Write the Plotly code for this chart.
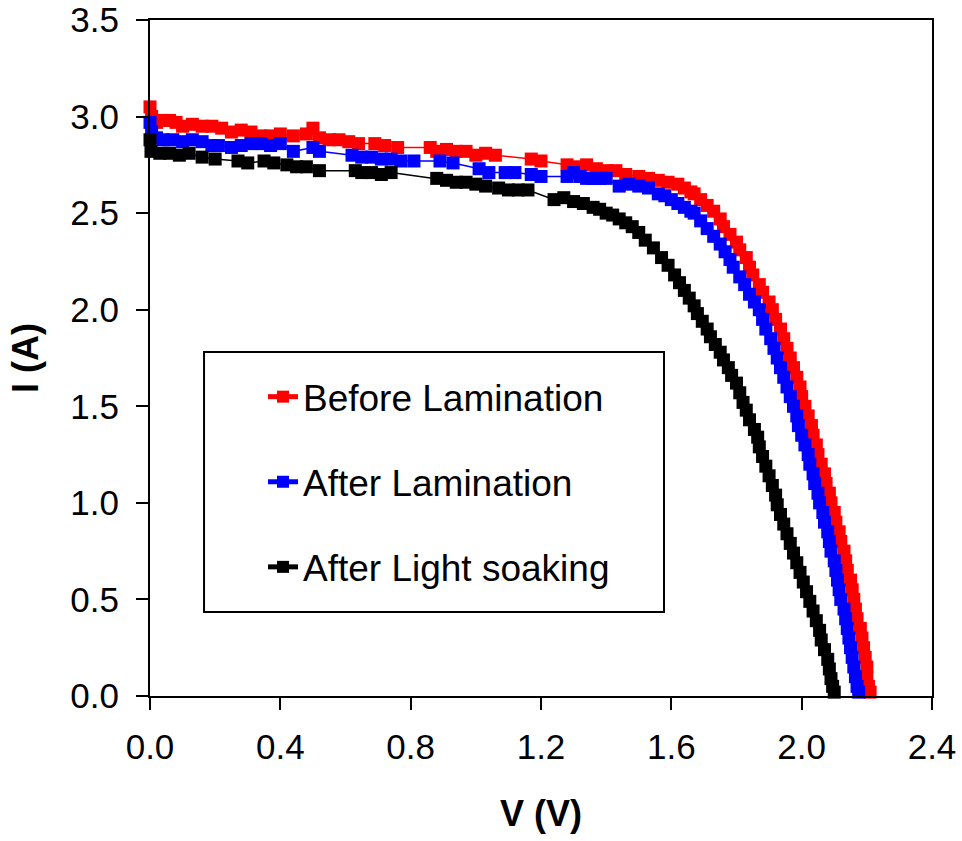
import plotly.graph_objects as go

# ---------------- data ----------------
series_names = ["Before Lamination", "After Lamination", "After Light soaking"]
series_colors = ["#ff0000", "#0000ff", "#000000"]

before_v = [0.000, 0.005, 0.02, 0.04, 0.06, 0.08, 0.10, 0.13, 0.16, 0.19, 0.22, 0.25, 0.28, 0.31,
            0.34, 0.37, 0.40, 0.44, 0.48, 0.50, 0.52, 0.55, 0.58, 0.61, 0.64, 0.69, 0.72, 0.76,
            0.86, 0.88, 0.91, 0.94, 0.97, 1.00, 1.03, 1.06, 1.17, 1.20, 1.28, 1.31, 1.34, 1.37,
            1.40, 1.43, 1.46, 1.50, 1.53, 1.56, 1.59, 1.62, 1.64, 1.66,
            1.67, 1.69, 1.71, 1.73, 1.75, 1.76, 1.78, 1.80, 1.81, 1.83, 1.84, 1.85, 1.87, 1.88,
            1.90, 1.91, 1.92, 1.935, 1.945, 1.955, 1.965, 1.975, 1.985, 1.995, 2.00, 2.01, 2.02,
            2.03, 2.035, 2.045, 2.05, 2.06, 2.07, 2.075, 2.085, 2.09, 2.10, 2.105, 2.115, 2.12,
            2.13, 2.135, 2.14, 2.15, 2.155, 2.16, 2.165, 2.17, 2.18, 2.185, 2.19, 2.195, 2.20,
            2.20, 2.205, 2.21]
before_i = [3.05, 3.00, 2.97, 2.98, 2.98, 2.97, 2.95, 2.96, 2.95, 2.95, 2.94, 2.92, 2.93, 2.92,
            2.90, 2.90, 2.91, 2.90, 2.91, 2.94, 2.89, 2.88, 2.88, 2.87, 2.86, 2.86, 2.85, 2.84,
            2.84, 2.82, 2.83, 2.82, 2.82, 2.80, 2.81, 2.80, 2.78, 2.77, 2.75, 2.74, 2.75, 2.73,
            2.72, 2.72, 2.70, 2.69, 2.68, 2.67, 2.66, 2.65, 2.63, 2.61,
            2.60, 2.57, 2.54, 2.51, 2.47, 2.43, 2.39, 2.35, 2.31, 2.27, 2.22, 2.18, 2.13, 2.09,
            2.04, 2.00, 1.95, 1.90, 1.85, 1.80, 1.75, 1.70, 1.65, 1.60, 1.55, 1.50, 1.45,
            1.40, 1.35, 1.30, 1.25, 1.20, 1.15, 1.10, 1.05, 1.00, 0.95, 0.90, 0.85, 0.80,
            0.75, 0.70, 0.65, 0.60, 0.55, 0.50, 0.45, 0.40, 0.35, 0.30, 0.25, 0.20, 0.15,
            0.10, 0.05, 0.02]

after_v = [0.000, 0.005, 0.02, 0.04, 0.07, 0.10, 0.13, 0.16, 0.19, 0.21, 0.25, 0.28, 0.31, 0.34,
           0.37, 0.40, 0.44, 0.50, 0.52, 0.62, 0.65, 0.68, 0.71, 0.74, 0.77, 0.81, 0.89, 0.93,
           1.01, 1.04, 1.09, 1.12, 1.17, 1.20, 1.28, 1.30, 1.32, 1.34, 1.36, 1.38, 1.40, 1.44,
           1.47, 1.50, 1.53, 1.56, 1.58, 1.60, 1.62, 1.64, 1.66,
           1.67, 1.69, 1.71, 1.73, 1.75, 1.765, 1.78, 1.79, 1.81, 1.825, 1.84, 1.855, 1.87,
           1.88, 1.89, 1.905, 1.915, 1.925, 1.935, 1.945, 1.955, 1.965, 1.975, 1.985, 1.99,
           2.00, 2.01, 2.02, 2.025, 2.035, 2.04, 2.05, 2.055, 2.065, 2.07, 2.08, 2.085, 2.09,
           2.10, 2.105, 2.11, 2.115, 2.12, 2.13, 2.135, 2.14, 2.145, 2.15, 2.155, 2.16, 2.165,
           2.17, 2.175]
after_i = [2.97, 2.92, 2.89, 2.88, 2.88, 2.87, 2.88, 2.87, 2.85, 2.85, 2.84, 2.85, 2.86, 2.86,
           2.85, 2.86, 2.82, 2.84, 2.82, 2.80, 2.79, 2.79, 2.78, 2.78, 2.77, 2.77, 2.77, 2.76,
           2.73, 2.71, 2.71, 2.71, 2.70, 2.69, 2.69, 2.71, 2.69, 2.68, 2.68, 2.68, 2.68, 2.64,
           2.65, 2.64, 2.63, 2.60, 2.59, 2.57, 2.55, 2.53, 2.51,
           2.50, 2.46, 2.42, 2.38, 2.34, 2.30, 2.26, 2.22, 2.17, 2.13, 2.08, 2.04, 2.00,
           1.95, 1.90, 1.85, 1.80, 1.75, 1.70, 1.65, 1.60, 1.55, 1.50, 1.45, 1.40,
           1.35, 1.30, 1.25, 1.20, 1.15, 1.10, 1.05, 1.00, 0.95, 0.90, 0.85, 0.80, 0.75,
           0.70, 0.65, 0.60, 0.55, 0.50, 0.45, 0.40, 0.35, 0.30, 0.25, 0.20, 0.15, 0.10,
           0.05, 0.02]

soak_v = [0.000, 0.003, 0.03, 0.06, 0.09, 0.12, 0.16, 0.20, 0.27, 0.30, 0.35, 0.38, 0.42, 0.45,
          0.48, 0.52, 0.63, 0.65, 0.68, 0.71, 0.74, 0.88, 0.91, 0.94, 0.97, 1.00, 1.03, 1.07,
          1.10, 1.13, 1.16, 1.24, 1.27, 1.30, 1.33, 1.36, 1.38, 1.40, 1.42, 1.44, 1.46, 1.48,
          1.50, 1.52, 1.545, 1.57, 1.59, 1.61, 1.625, 1.64, 1.655, 1.67, 1.68, 1.695, 1.71,
          1.72, 1.735, 1.75, 1.76, 1.775, 1.785, 1.80, 1.81, 1.82, 1.83, 1.84, 1.855, 1.865,
          1.87, 1.88, 1.89, 1.90, 1.91, 1.92, 1.925, 1.935, 1.945, 1.955, 1.965, 1.975, 1.985,
          1.995, 2.005, 2.015, 2.025, 2.035, 2.045, 2.055, 2.06, 2.07, 2.08, 2.085, 2.09,
          2.095, 2.10]
soak_i = [2.88, 2.82, 2.81, 2.81, 2.80, 2.81, 2.79, 2.78, 2.77, 2.76, 2.77, 2.76, 2.75, 2.74,
          2.74, 2.72, 2.72, 2.71, 2.71, 2.70, 2.71, 2.68, 2.67, 2.66, 2.66, 2.65, 2.64, 2.63,
          2.62, 2.62, 2.62, 2.57, 2.58, 2.56, 2.55, 2.53, 2.52, 2.50, 2.49, 2.47, 2.45, 2.43,
          2.40, 2.36, 2.32, 2.27, 2.23, 2.18, 2.14, 2.10, 2.06, 2.02, 1.98, 1.94, 1.90,
          1.86, 1.82, 1.78, 1.74, 1.70, 1.66, 1.62, 1.57, 1.52, 1.48, 1.43, 1.38, 1.34,
          1.29, 1.24, 1.19, 1.14, 1.09, 1.04, 0.99, 0.94, 0.89, 0.84, 0.79, 0.74, 0.69,
          0.64, 0.59, 0.54, 0.49, 0.44, 0.39, 0.34, 0.29, 0.24, 0.19, 0.14, 0.09,
          0.05, 0.02]

x_ticks = [0.0, 0.4, 0.8, 1.2, 1.6, 2.0, 2.4]
y_ticks = [0.0, 0.5, 1.0, 1.5, 2.0, 2.5, 3.0, 3.5]

FONT = "Liberation Sans, Arial, sans-serif"

fig = go.Figure()
for name, color, vv, ii, grp in zip(series_names, series_colors,
                                    [before_v, after_v, soak_v],
                                    [before_i, after_i, soak_i],
                                    ["g1", "g2", "g3"]):
    fig.add_trace(go.Scatter(
        x=vv, y=ii, name=name, mode="lines+markers", legendgroup=grp,
        line=dict(color=color, width=1.5),
        marker=dict(symbol="square", size=13, color=color, line=dict(width=0)),
        cliponaxis=False,
    ))

axis_common = dict(
    showline=True, linecolor="black", linewidth=2, mirror=True,
    ticks="outside", ticklen=12, tickwidth=1.5, tickcolor="black",
    showgrid=False, zeroline=False, automargin=False,
    tickfont=dict(family=FONT, size=35, color="black"),
    tickformat=".1f",
)

fig.update_xaxes(range=[0, 2.4], tickvals=x_ticks, ticklabelstandoff=7, **axis_common,
                 title=dict(text="<b>V (V)</b>", font=dict(family=FONT, size=36, color="black"),
                            standoff=36))
fig.update_yaxes(range=[0, 3.5], tickvals=y_ticks, ticklabelstandoff=10, **axis_common,
                 title=dict(text="<b>I (A)</b>", font=dict(family=FONT, size=36, color="black"),
                            standoff=21))

# legend frame
fig.add_shape(type="rect", xref="paper", yref="paper",
              x0=0.0691, x1=0.6573, y0=0.1243, y1=0.5089,
              line=dict(color="black", width=2), fillcolor="rgba(0,0,0,0)")

fig.update_layout(
    width=962, height=841,
    margin=dict(l=150, r=30, t=20, b=145),
    paper_bgcolor="white", plot_bgcolor="white",
    font=dict(family=FONT, color="black"),
    showlegend=True,
    legend=dict(x=0.1445, y=0.488, xanchor="left", yanchor="top",
                bgcolor="rgba(0,0,0,0)", borderwidth=0, itemsizing="constant",
                font=dict(family=FONT, size=37, color="black"),
                tracegroupgap=34, traceorder="grouped"),
)

fig.write_html("out.html")
